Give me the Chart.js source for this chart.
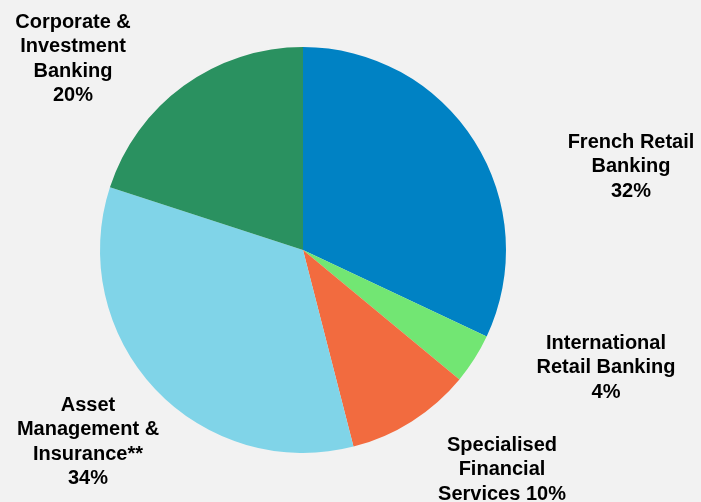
<!DOCTYPE html>
<html>
<head>
<meta charset="utf-8">
<script src="https://cdn.jsdelivr.net/npm/chart.js@4"></script>
<style>
  html, body { margin: 0; padding: 0; background: #f2f2f2; }
  canvas { display: block; }
</style>
</head>
<body>
<canvas id="chart" width="701" height="502"></canvas>
<script>
const categories = [
  'French Retail Banking',
  'International Retail Banking',
  'Specialised Financial Services',
  'Asset Management & Insurance**',
  'Corporate & Investment Banking'
];
const shares = [32, 4, 10, 34, 20];

// label text as it is wrapped in the picture
const labelLines = [
  ['French Retail', 'Banking', '32%'],
  ['International', 'Retail Banking', '4%'],
  ['Specialised', 'Financial', 'Services 10%'],
  ['Asset', 'Management &', 'Insurance**', '34%'],
  ['Corporate &', 'Investment', 'Banking', '20%']
];
// where each label block sits (centre x, first line y)
const labelPlaces = [
  [631, 142],
  [606, 343],
  [502, 445],
  [88, 405],
  [73, 22]
];

const sliceColors = ['#0082c4', '#72e673', '#f26b3f', '#80d4e8', '#2a9160'];

const outsideLabels = {
  id: 'outsideLabels',
  afterDraw(chart) {
    const ctx = chart.ctx;
    ctx.save();
    ctx.fillStyle = '#000';
    ctx.font = 'bold 20px "Liberation Sans", Arial, sans-serif';
    ctx.textAlign = 'center';
    ctx.textBaseline = 'middle';
    for (let i = 0; i < labelLines.length; i++) {
      const lines = labelLines[i];
      const x = labelPlaces[i][0];
      let y = labelPlaces[i][1];
      for (let j = 0; j < lines.length; j++) {
        ctx.fillText(lines[j], x, y + j * 24.5);
      }
    }
    ctx.restore();
  }
};

const ctx = document.getElementById('chart').getContext('2d');
new Chart(ctx, {
  type: 'pie',
  data: {
    labels: categories,
    datasets: [{
      data: shares,
      backgroundColor: sliceColors,
      borderWidth: 0
    }]
  },
  options: {
    responsive: false,
    animation: false,
    layout: { padding: { left: 100, right: 195, top: 47, bottom: 49 } },
    plugins: {
      legend: { display: false },
      tooltip: { enabled: false }
    }
  },
  plugins: [outsideLabels]
});
</script>
</body>
</html>
